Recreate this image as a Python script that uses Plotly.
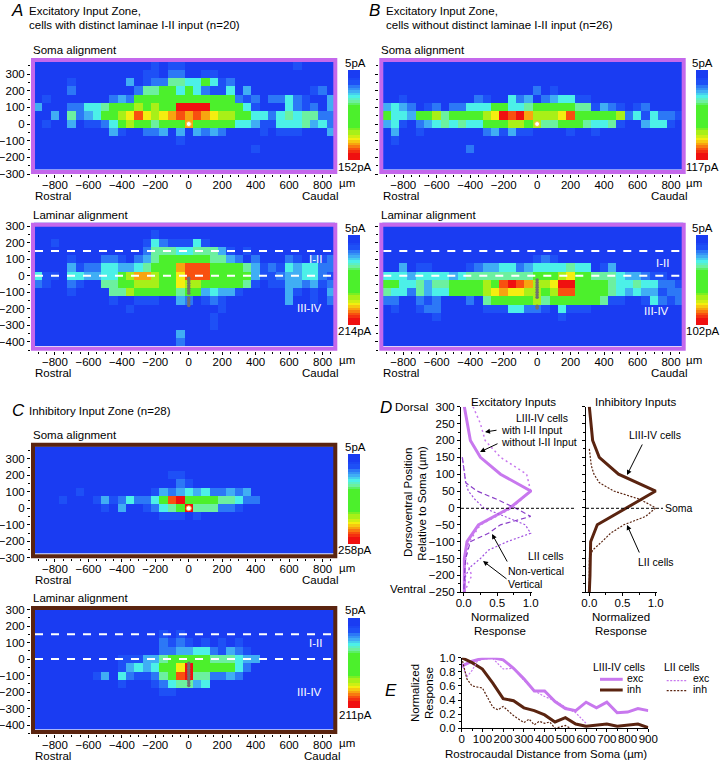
import plotly.graph_objects as go

W, H = 720, 763
FONT = "Liberation Sans"
PINK = "#c468ec"
LINE_PINK = "#c878ee"
BROWN = "#5a2410"

# ---- data: heat-map levels, one hex digit per cell; columns -900..850 um step 50
X_CENTERS = list(range(-900, 900, 50))
SOMA_Y = list(range(350, -300, -50))
LAM_Y = list(range(300, -450, -50))
Z0 = "000000 000000 000000 000000 000000 000000"

A_SOMA = [
    "000000 000000 001011 000000 000000 010000",
    "000000 000000 011022 001100 000000 000000",
    "000010 000003 012255 446412 000000 000000",
    "000020 000000 255664 642114 030000 000120",
    "010000 000232 666666 666666 212022 421003",
    "300022 445666 76766b bbb666 641000 421203",
    "003052 346678 a8789a 9a9877 664424 545522",
    "010030 112467 665666 966666 443114 445342",
    "000000 000310 022303 032320 000101 110003",
    "000000 000000 000001 000000 000000 000000",
    "000000 000000 000000 000000 001000 000000",
    Z0, Z0,
]
A_LAM = [
    Z0,
    "000000 000000 001000 000000 000000 000000",
    "001000 000000 014211 141000 000000 000000",
    "000000 000000 025554 455531 010000 000000",
    "000010 002210 235666 666553 202000 210212",
    "000031 224433 456669 aaa666 653121 434422",
    "411044 334467 997668 aaa666 663112 334421",
    "210021 005566 777668 776666 651011 332312",
    "000010 000557 666665 663433 100000 310103",
    "000000 000100 111003 201210 000000 300102",
    "000000 000001 000000 000010 000000 000000",
    "000000 000000 000000 000100 000000 000000",
    "000000 000000 000000 000100 000000 000000",
    "000000 000000 000003 000000 000000 000000",
    "000000 000000 000002 000000 000000 000000",
]
B_SOMA = [
    Z0, Z0, Z0,
    "000000 000000 000000 201000 000000 000000",
    "001000 000002 100423 023441 100000 000000",
    "343201 202244 466445 666665 513210 120000",
    "644366 756666 78bab9 7778a6 666672 414221",
    "341023 454544 666776 755666 544510 034410",
    "030010 000000 231311 000010 010000 000000",
    "010000 000000 000000 000000 000000 000000",
    "000000 000020 000000 000000 000000 000000",
    Z0, Z0,
]
B_LAM = [
    Z0, Z0, Z0, Z0,
    "000000 000000 000000 121000 000000 000000",
    "003011 000012 334423 444454 401300 000000",
    "444344 443455 555555 666786 655543 321100",
    "664453 556666 76aba9 778bb6 666544 544221",
    "544253 446666 789887 767aa6 666543 433122",
    "220021 200020 566666 756666 665110 014212",
    "010012 200000 111442 210411 100000 000000",
    "000000 100000 000000 000100 000000 000000",
    Z0, Z0, Z0,
]
C_SOMA = [
    Z0, Z0, Z0,
    "000000 000000 000011 000000 000000 000000",
    "000000 000000 000002 100000 000000 000000",
    "000001 000000 001323 434223 230000 000000",
    "000100 013124 2246ab 666655 422000 000000",
    "000000 001030 012456 b55522 100000 000000",
    "000000 000000 000111 010000 000000 000000",
    Z0, Z0, Z0, Z0,
]
C_LAM = [
    Z0, Z0, Z0,
    "000000 000000 000101 000000 000000 000000",
    "000000 000000 000212 101010 100000 000000",
    "000000 000000 000223 344213 210000 000000",
    "000000 000011 133566 666555 433000 000000",
    "000000 000013 434668 b66666 420000 000000",
    "000000 013042 11256a b55223 200000 000000",
    "000000 000010 001245 534000 000000 000000",
    "000000 000000 000110 000000 000000 000000",
    Z0, Z0, Z0, Z0,
]
COLORBAR_LEVELS = [0, 0, 0, 0.5, 1, 1, 2, 2.5, 3, 3.5, 4, 4.5, 5, 5.5, 6, 6, 6, 6, 6, 6, 6, 6, 6,
                   6.5, 7, 7, 7.5, 8, 8.5, 9, 9.5, 10, 10.5, 11, 11, 11]
LEVEL_COLORS = ["#1a3cf2", "#1e50f6", "#2c78f6", "#40aef4", "#4cf0e8", "#6cf0a0",
                "#4cf02c", "#a8f018", "#f4ee10", "#f8a410", "#f85010", "#f01010"]

SOMA_X = [0]
SOMA_DOT_Y = [0]
A_CELLS_Y = [-15, -30, -45, -60, -75, -90, -105, -135, -150, -165, -180]
B_CELLS_Y = [-25, -40, -55, -70, -85, -100, -115, -130, -185, -195]
C_CELLS_Y = [-25, -40, -55, -70, -85, -100, -115, -130, -145, -160]

# Panel D
DY = [300, 250, 200, 150, 100, 50, 0, -50, -100, -150, -200, -250]
D_NO_III = [0.01, 0.05, 0.10, 0.25, 0.55, 1.0, 0.69, 0.22, 0.05, 0.01, 0.01, 0.01]
D_WITH_III = [0.14, 0.25, 0.32, 0.55, 0.94, 1.0, 0.72, 0.25, 0.08, 0.03, 0.12, 0.01]
DY2 = [150, 100, 75, 50, 25, 0, -25, -50, -75, -100, -125, -150, -175, -200, -250]
D_NONVERT = [-0.02, 0.02, 0.03, 0.20, 0.50, 0.77, 1.0, 0.55, 0.37, 0.10, 0.06, 0.03, 0.02, 0.01, 0.0]
D_VERT = [-0.02, 0.01, 0.03, 0.07, 0.17, 0.30, 0.60, 0.92, 1.0, 0.65, 0.37, 0.25, 0.10, 0.03, 0.0]
DI_L3 = [0.0, 0.02, 0.05, 0.15, 0.44, 1.0, 0.57, 0.12, 0.02, 0.02, 0.01, 0.0]
DYI = [175, 150, 125, 100, 75, 50, 25, 0, -25, -50, -75, -100, -125, -150, -250]
DI_L2 = [0.0, 0.02, 0.03, 0.07, 0.15, 0.37, 0.77, 1.0, 0.85, 0.52, 0.32, 0.19, 0.05, 0.0, 0.0]

# Panel E
EX = list(range(0, 950, 50))
E_EXC = [.88, .95, .99, 1.0, .97, .85, .70, .53, .53, .38, .28, .25, .37, .29, .37, .22, .23, .28, .25]
E_INH = [1.0, .93, .84, .64, .42, .39, .29, .25, .19, .09, .15, .06, .03, .05, .06, .03, .04, .06, .01]
EX2 = [0, 25, 50, 75, 100, 150, 200, 250, 300, 350, 400, 450, 500, 550, 600]
E_L2_EXC = [.92, .73, .82, .95, .98, .99, .84, .85, .68, .53, .45, .39, .30, .22, .07]
EX3 = [0, 25, 50, 100, 150, 175, 200, 250, 300, 325, 350, 375, 400, 425, 450, 500, 525]
E_L2_INH = [1.0, .70, .60, .57, .30, .26, .31, .18, .08, .13, .05, .10, .07, .09, 0, .04, 0]

# ---- helpers
fig = go.Figure()
layout = {}
counter = [0]
annots = []
shapes = []
FS = 11.5
FS2 = 10.5


def px(x):
    return x / W


def py(y):
    return 1 - y / H


def new_axes(xd, yd, xopts, yopts):
    counter[0] += 1
    n = counter[0]
    s = "" if n == 1 else str(n)
    layout["xaxis" + s] = dict(domain=[px(xd[0]), px(xd[1])], anchor="y" + s, automargin=False, **xopts)
    layout["yaxis" + s] = dict(domain=[py(yd[1]), py(yd[0])], anchor="x" + s, automargin=False, **yopts)
    return "x" + s, "y" + s


def text(x, y, s, anchor="left", size=FS, color="black", angle=0):
    annots.append(dict(x=px(x), y=py(y), xref="paper", yref="paper", text=s, showarrow=False,
                       xanchor=anchor, yanchor="middle", textangle=angle,
                       font=dict(family=FONT, size=size, color=color)))


def arrow(x0, y0, x1, y1):
    annots.append(dict(x=px(x1), y=py(y1), ax=x0 - x1, ay=y0 - y1, xref="paper", yref="paper",
                       axref="pixel", ayref="pixel", text="", showarrow=True, arrowhead=2,
                       arrowsize=1, arrowwidth=1, arrowcolor="black"))


def parse(rows):
    return [[int(c, 16) for c in r.replace(" ", "")] for r in rows]


SCALE = [[i / 11, c] for i, c in enumerate(LEVEL_COLORS)]
TICK = dict(family=FONT, size=FS, color="black")
FRAME = 4
XSTAND = -3


def widen(d, r):
    k = (r[1] - r[0]) / (d[1] - d[0])
    return [r[0] - FRAME * k, r[1] + FRAME * k]


def heat(rows, ys, xd, yd, xr, yr, frame, labels=True):
    # inner rectangle xd/yd shows xr/yr; the axes reach out to the frame's outer edge
    xo = dict(range=widen(xd, xr), tickmode="linear", tick0=0, dtick=200, ticks="outside", ticklen=3, tickwidth=1,
              tickcolor="black", showline=False, showgrid=False, zeroline=False, tickfont=TICK, tickangle=0,
              ticklabelstandoff=XSTAND, minor=dict(dtick=50, ticks="outside", ticklen=2, tickcolor="black"))
    yo = dict(range=widen(yd, yr), tickmode="linear", tick0=0, dtick=100, ticks="outside", ticklen=3, tickwidth=1,
              tickcolor="black", showline=False, showgrid=False, zeroline=False, tickfont=TICK,
              showticklabels=labels, minor=dict(dtick=50, ticks="outside", ticklen=2, tickcolor="black"))
    xa, ya = new_axes((xd[0] - FRAME, xd[1] + FRAME), (yd[0] - FRAME, yd[1] + FRAME), xo, yo)
    fig.add_trace(go.Heatmap(x=X_CENTERS, y=ys, z=parse(rows), zmin=0, zmax=11, colorscale=SCALE,
                             showscale=False, xaxis=xa, yaxis=ya, hoverinfo="skip"))
    shapes.append(dict(type="rect", xref="paper", yref="paper", x0=px(xd[0] - FRAME / 2), x1=px(xd[1] + FRAME / 2),
                       y0=py(yd[1] + FRAME / 2), y1=py(yd[0] - FRAME / 2), line=dict(color=frame, width=FRAME)))
    return xa, ya


def colorbar(xd, yd):
    xo = dict(visible=False)
    yo = dict(visible=False, autorange="reversed")
    xa, ya = new_axes(xd, yd, xo, yo)
    fig.add_trace(go.Heatmap(z=[[v] for v in COLORBAR_LEVELS], zmin=0, zmax=11, colorscale=SCALE,
                             showscale=False, xaxis=xa, yaxis=ya, hoverinfo="skip"))


def dashes(xa, ya, xr, levels):
    for lv in levels:
        fig.add_trace(go.Scatter(x=xr, y=[lv, lv], mode="lines", xaxis=xa, yaxis=ya,
                                 line=dict(color="white", width=2, dash="8px,8px"), hoverinfo="skip"))


def soma(xa, ya):
    fig.add_trace(go.Scatter(x=SOMA_X, y=SOMA_DOT_Y, mode="markers", xaxis=xa, yaxis=ya, hoverinfo="skip",
                             marker=dict(color="white", size=5, line=dict(color="#f0c040", width=1))))


def cells(xa, ya, ys):
    fig.add_trace(go.Scatter(x=[0] * len(ys), y=ys, mode="markers", xaxis=xa, yaxis=ya, hoverinfo="skip",
                             marker=dict(color="#707070", size=3.5)))


XR_ = [-919, 864]
YR_S = [-276, 372]
YR_L = [-429, 297]
XA = (35, 333.3)
XB = (383.3, 681.7)
YS = (62, 170)
YL = (226.7, 346.7)
YCS = (446.7, 554.3)
YCL = (610, 730)

# A
a, b = heat(A_SOMA, SOMA_Y, XA, YS, XR_, YR_S, PINK)
soma(a, b)
colorbar((348, 360), (70, 160))
a, b = heat(A_LAM, LAM_Y, XA, YL, XR_, YR_L, PINK)
dashes(a, b, XR_, [150, 0])
cells(a, b, A_CELLS_Y)
colorbar((348, 360), (235, 325))
# B
a, b = heat(B_SOMA, SOMA_Y, XB, YS, XR_, YR_S, PINK, labels=False)
soma(a, b)
colorbar((696, 708), (70, 160))
a, b = heat(B_LAM, LAM_Y, XB, YL, XR_, YR_L, PINK, labels=False)
dashes(a, b, XR_, [150, 0])
cells(a, b, B_CELLS_Y)
colorbar((696, 708), (235, 325))
# C
a, b = heat(C_SOMA, SOMA_Y, XA, YCS, XR_, [-279, 373], BROWN)
soma(a, b)
colorbar((348, 360), (454, 544))
a, b = heat(C_LAM, LAM_Y, XA, YCL, XR_, YR_L, BROWN)
dashes(a, b, XR_, [150, 0])
cells(a, b, C_CELLS_Y)
colorbar((348, 360), (618, 708))


def line_axes(xd, yd, xr, yr, xopt, yopt):
    base = dict(showgrid=False, zeroline=False, showline=True, linecolor="black", linewidth=1,
                ticks="outside", ticklen=3, tickcolor="black", tickfont=TICK, tickangle=0)
    return new_axes(xd, yd, dict(base, range=xr, ticklabelstandoff=XSTAND, **xopt), dict(base, range=yr, **yopt))


def curve(xa, ya, xs, ys, color, width, dash="solid"):
    fig.add_trace(go.Scatter(x=xs, y=ys, mode="lines", xaxis=xa, yaxis=ya, hoverinfo="skip",
                             line=dict(color=color, width=width, dash=dash)))


YT = list(range(-250, 350, 50))
XFMT = dict(tickmode="array", tickvals=[0, 0.5, 1.0], ticktext=["0.0", "0.5", "1.0"],
            minor=dict(dtick=0.25, ticks="outside", ticklen=2, tickcolor="black"))

# D left
a, b = line_axes((461, 532), (406.7, 592.3), [-0.04, 1.02], [-250, 300], XFMT,
                 dict(tickmode="array", tickvals=YT,
                      minor=dict(dtick=25, ticks="outside", ticklen=2, tickcolor="black")))
curve(a, b, D_NO_III, DY, LINE_PINK, 3)
curve(a, b, D_WITH_III, DY, LINE_PINK, 1.5, "2px,3px")
curve(a, b, D_NONVERT, DY2, "#8a3ec8", 1.2, "5px,3px")
curve(a, b, D_VERT, DY2, "#a050e0", 1.2, "2px,2px")
# D right
a2, b2 = line_axes((586, 657), (406.7, 592.3), [-0.05, 1.02], [-250, 300], XFMT,
                   dict(tickmode="array", tickvals=YT, showticklabels=False,
                        minor=dict(dtick=25, ticks="outside", ticklen=2, tickcolor="black")))
curve(a2, b2, DI_L3, DY, BROWN, 3)
curve(a2, b2, DI_L2, DYI, BROWN, 1.2, "2px,1.5px")
# E
a3, b3 = line_axes((461.7, 648.3), (657.7, 728.3), [0, 900], [0, 1.0],
                   dict(tickmode="linear", tick0=0, dtick=100,
                        minor=dict(dtick=50, ticks="outside", ticklen=2, tickcolor="black")),
                   dict(tickmode="array", tickvals=[0, .2, .4, .6, .8, 1.0],
                        ticktext=["0.0", "0.2", "0.4", "0.6", "0.8", "1.0"],
                        minor=dict(dtick=.1, ticks="outside", ticklen=2, tickcolor="black")))
curve(a3, b3, EX, E_EXC, LINE_PINK, 3)
curve(a3, b3, EX, E_INH, BROWN, 3)
curve(a3, b3, EX2, E_L2_EXC, LINE_PINK, 1.2, "2px,1.5px")
curve(a3, b3, EX3, E_L2_INH, BROWN, 1.2, "2px,1.5px")

# zero reference lines and legend swatches
for x0, x1, y, c, w, d in [(461, 575, 508.3, "black", 1, "3px,2px"), (586, 663, 508.3, "black", 1, "3px,2px"),
                           (600, 622.7, 679.3, LINE_PINK, 3, "solid"), (600, 622.7, 690, BROWN, 3, "solid"),
                           (666.7, 687, 680.7, LINE_PINK, 1.2, "2px,1.5px"), (666.7, 687, 690.7, BROWN, 1.2, "2px,1.5px")]:
    shapes.append(dict(type="line", xref="paper", yref="paper", x0=px(x0), x1=px(x1), y0=py(y), y1=py(y),
                       line=dict(color=c, width=w, dash=d)))

# ---- text
L = lambda s: "<i>%s</i>" % s
text(9, 10, L("A"), size=17)
text(367, 10, L("B"), size=17)
text(10, 410, L("C"), size=17)
text(378, 407, L("D"), size=17)
text(383, 690, L("E"), size=17)
text(26.7, 11, "Excitatory Input Zone,")
text(26.7, 25, "cells with distinct laminae I-II input (n=20)")
text(384, 11, "Excitatory Input Zone,")
text(384, 25, "cells without distinct laminae I-II input (n=26)")
text(26.7, 411, "Inhibitory Input Zone (n=28)")
text(31, 50, "Soma alignment")
text(379, 50, "Soma alignment")
text(31, 215, "Laminar alignment")
text(379, 215, "Laminar alignment")
text(31, 435, "Soma alignment")
text(31, 598, "Laminar alignment")

for xl, xr, y in [(33, 340, 196), (33, 340, 373), (380.7, 689, 196), (380.7, 689, 373), (33, 340, 580), (33, 342, 756)]:
    text(xl, y, "Rostral")
    text(xr, y, "Caudal", anchor="right")
for x, y in [(336.7, 183), (336.7, 360), (684, 183), (684, 360), (336.7, 568), (336.7, 743)]:
    text(x, y, "µm")
for xc, y1, lab1, y2, lab2 in [(355, 63, "5pA", 167, "152pA"), (355, 228, "5pA", 331, "214pA"),
                               (702.7, 63, "5pA", 167, "117pA"), (702.7, 228, "5pA", 331, "102pA"),
                               (355, 447, "5pA", 550, "258pA"), (355, 610, "5pA", 715, "211pA")]:
    text(xc, y1, lab1, anchor="center")
    text(xc, y2, lab2, anchor="center")
for x, y, s in [(315, 259.3, "I-II"), (309, 308, "III-IV"), (662.7, 262.7, "I-II"), (656.7, 310.7, "III-IV"),
                (315, 642.7, "I-II"), (309, 691.7, "III-IV")]:
    text(x, y, s, anchor="center", color="white")

text(430, 407, "Dorsal", anchor="right")
text(428, 589, "Ventral", anchor="right")
text(408, 503, "Dorsoventral Position", anchor="center", angle=-90)
text(421.7, 503, "Relative to Soma (µm)", anchor="center", angle=-90)
text(513, 402, "Excitatory Inputs", anchor="center")
text(635, 402, "Inhibitory Inputs", anchor="center")
text(542, 418, "LIII-IV cells", anchor="center", size=FS2)
text(499, 430, "with I-II Input", size=FS2)
text(499, 442.3, "without I-II Input", size=FS2)
text(545.7, 556, "LII cells", anchor="center", size=FS2)
text(535.7, 571, "Non-vertical", anchor="center", size=FS2)
text(525.3, 583.7, "Vertical", anchor="center", size=FS2)
text(655, 435, "LIII-IV cells", anchor="center", size=FS2)
text(655.7, 561.7, "LII cells", anchor="center", size=FS2)
text(679.3, 507.7, "Soma", anchor="center", size=FS2)
text(500, 617, "Normalized", anchor="center")
text(500, 631, "Response", anchor="center")
text(621, 617, "Normalized", anchor="center")
text(621, 631, "Response", anchor="center")
text(415, 693, "Normalized", anchor="center", angle=-90)
text(429, 693, "Response", anchor="center", angle=-90)
text(545.7, 754, "Rostrocaudal Distance from Soma (µm)", anchor="center")
text(618.7, 667.3, "LIII-IV cells", anchor="center", size=FS2)
text(635, 678, "exc", size=FS2, anchor="center")
text(634, 689, "inh", size=FS2, anchor="center")
text(681.7, 667.3, "LII cells", anchor="center", size=FS2)
text(701, 678, "exc", size=FS2, anchor="center")
text(700, 688.7, "inh", size=FS2, anchor="center")

arrow(498, 430, 485, 432)
arrow(499, 443, 480, 452)
arrow(508, 563, 492, 534)
arrow(508, 580, 483, 561)
arrow(643, 443, 627, 475)
arrow(640, 554, 627, 525)

layout.update(width=W, height=H, margin=dict(l=0, r=0, t=0, b=0, autoexpand=False), paper_bgcolor="white",
              plot_bgcolor="white", showlegend=False, annotations=annots, shapes=shapes,
              font=dict(family=FONT, size=FS), template="none")
fig.update_layout(**layout)
fig.write_html("out.html", config=dict(displayModeBar=False),
               post_script="document.body.style.margin='0';document.body.style.overflow='hidden';")
